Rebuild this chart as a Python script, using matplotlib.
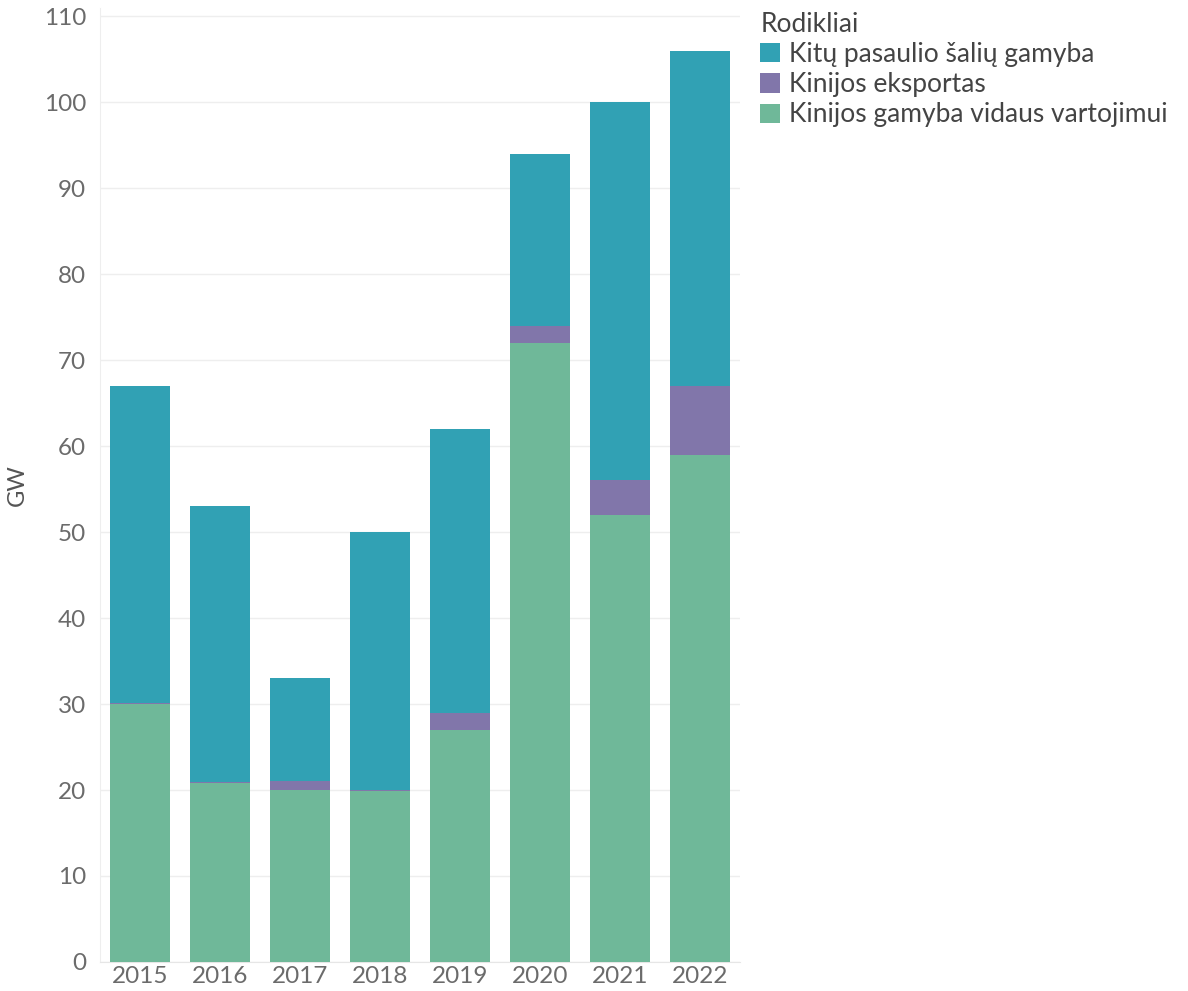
import numpy as np
import matplotlib.pyplot as plt

years = ['2015', '2016', '2017', '2018', '2019', '2020', '2021', '2022']
china_domestic = [30, 20.8, 20, 19.9, 27, 72, 52, 59]
china_export = [0.1, 0.1, 1, 0.1, 2, 2, 4, 8]
rest_of_world = [36.9, 32.1, 12, 30, 33, 20, 44, 39]

series_names = ['Kitų pasaulio šalių gamyba', 'Kinijos eksportas',
                'Kinijos gamyba vidaus vartojimui']
colors = ['#31a1b4', '#8176aa', '#6fb899']

plt.rcParams['font.family'] = ['Lato', 'DejaVu Sans']

fig = plt.figure(figsize=(11.88, 9.91), dpi=100)
ax = fig.add_axes([0.0842, 0.0293, 0.5387, 0.963])

x = np.arange(len(years))
w = 0.75
bottom2 = np.array(china_domestic)
bottom3 = bottom2 + np.array(china_export)

b_green = ax.bar(x, china_domestic, w, color=colors[2], zorder=3)
b_purple = ax.bar(x, china_export, w, bottom=bottom2, color=colors[1], zorder=3)
b_teal = ax.bar(x, rest_of_world, w, bottom=bottom3, color=colors[0], zorder=3)

ax.set_xlim(-0.5, len(years) - 0.5)
ax.set_ylim(0, 111)
ax.set_yticks(np.arange(0, 111, 10))
ax.set_xticks(x)
ax.set_xticklabels(years)
ax.tick_params(axis='both', length=0, labelcolor='#6b6b6b', labelsize=17.5)
ax.tick_params(axis='y', pad=10)
ax.tick_params(axis='x', pad=3)

ax.grid(axis='y', color='#eeeeee', linewidth=1, zorder=0)
for side in ['top', 'right']:
    ax.spines[side].set_visible(False)
ax.spines['left'].set_color('#eeeeee')
ax.spines['bottom'].set_color('#e6e6e6')

ax.set_ylabel('GW', fontsize=17, color='#555555')
ax.yaxis.set_label_coords(-0.112, 0.5)

leg = fig.legend([b_teal, b_purple, b_green], series_names,
                 loc='upper left', bbox_to_anchor=(0.631, 0.999),
                 frameon=False, title='Rodikliai', fontsize=19,
                 title_fontsize=19, handlelength=0.75, handleheight=0.75,
                 handletextpad=0.35, labelspacing=0.2, borderaxespad=0)
leg._legend_box.align = 'left'
leg.get_title().set_color('#444444')
for t in leg.get_texts():
    t.set_color('#444444')

fig.savefig('out.png', dpi=100)
